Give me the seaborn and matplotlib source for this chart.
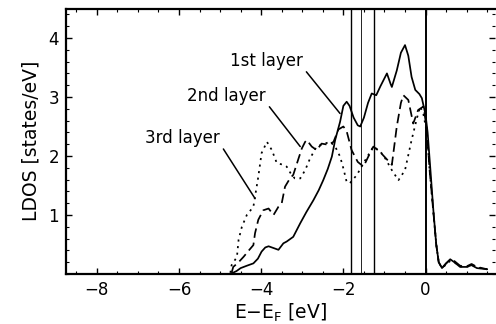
import numpy as np
import pandas as pd
import matplotlib
matplotlib.use("Agg")
import matplotlib.pyplot as plt
from matplotlib.ticker import MultipleLocator
import seaborn as sns

# ---- data ----
e1 = [-4.75, -4.6, -4.5, -4.35, -4.19, -4.08, -3.99, -3.9, -3.82, -3.7, -3.58, -3.46,
      -3.38, -3.22, -3.05, -2.9, -2.73, -2.6, -2.49, -2.38, -2.28, -2.2, -2.08, -2.0,
      -1.92, -1.85, -1.75, -1.65, -1.59, -1.5, -1.4, -1.31, -1.2, -1.1, -0.94, -0.85,
      -0.82, -0.7, -0.6, -0.5, -0.42, -0.34, -0.25, -0.15, -0.09, 0.0, 0.05, 0.12,
      0.19, 0.26, 0.32, 0.4, 0.5, 0.6, 0.7, 0.84, 1.0, 1.12, 1.25, 1.5]
d1 = [0.0, 0.05, 0.1, 0.14, 0.18, 0.26, 0.38, 0.45, 0.47, 0.44, 0.41, 0.52,
      0.55, 0.63, 0.86, 1.05, 1.25, 1.42, 1.59, 1.78, 1.99, 2.27, 2.58, 2.85,
      2.92, 2.85, 2.65, 2.52, 2.50, 2.65, 2.9, 3.06, 3.03, 3.18, 3.40, 3.22,
      3.17, 3.45, 3.75, 3.88, 3.7, 3.34, 3.12, 3.05, 2.98, 2.7, 2.4, 1.75,
      1.08, 0.5, 0.2, 0.1, 0.18, 0.25, 0.2, 0.12, 0.12, 0.15, 0.1, 0.08]

e2 = [-4.72, -4.68, -4.55, -4.43, -4.3, -4.19, -4.15, -4.07, -3.95, -3.82, -3.7, -3.58,
      -3.5, -3.42, -3.3, -3.22, -3.09, -3.01, -2.93, -2.89, -2.77, -2.65, -2.53, -2.36,
      -2.24, -2.12, -2.0, -1.92, -1.8, -1.65, -1.51, -1.4, -1.27, -1.11, -0.95, -0.82,
      -0.7, -0.6, -0.54, -0.42, -0.3, -0.18, -0.05, 0.03, 0.1, 0.19, 0.26, 0.32,
      0.4, 0.5, 0.6, 0.7, 0.84, 1.0, 1.12, 1.25, 1.5]
d2 = [0.02, 0.12, 0.2, 0.29, 0.4, 0.49, 0.69, 0.92, 1.08, 1.11, 1.0, 1.14,
      1.2, 1.48, 1.62, 1.68, 1.96, 2.13, 2.24, 2.27, 2.16, 2.10, 2.21, 2.19,
      2.24, 2.45, 2.5, 2.42, 2.1, 1.9, 1.82, 1.98, 2.16, 2.07, 1.95, 1.85,
      2.5, 2.9, 3.03, 2.95, 2.55, 2.78, 2.84, 2.45, 1.75, 1.05, 0.5, 0.2,
      0.1, 0.18, 0.24, 0.22, 0.14, 0.13, 0.17, 0.12, 0.08]

e3 = [-4.75, -4.72, -4.59, -4.55, -4.47, -4.35, -4.19, -4.15, -4.07, -3.99, -3.86, -3.74,
      -3.62, -3.46, -3.38, -3.26, -3.18, -3.05, -2.93, -2.81, -2.65, -2.5, -2.32, -2.2,
      -2.08, -2.0, -1.92, -1.84, -1.67, -1.51, -1.27, -1.15, -1.03, -0.82, -0.66, -0.5,
      -0.34, -0.21, -0.13, -0.05, 0.03, 0.1, 0.19, 0.26, 0.32, 0.4, 0.5, 0.6,
      0.7, 0.84, 1.0, 1.12, 1.25, 1.5]
d3 = [0.02, 0.15, 0.29, 0.58, 0.80, 1.0, 1.14, 1.31, 1.65, 2.05, 2.24, 2.10,
      1.88, 1.85, 1.82, 1.68, 1.62, 1.62, 1.76, 1.96, 2.16, 2.2, 2.24, 2.16,
      1.99, 1.79, 1.56, 1.54, 1.68, 1.88, 2.16, 2.1, 2.02, 1.76, 1.59, 1.76,
      2.27, 2.64, 2.84, 2.7, 2.4, 1.75, 1.05, 0.5, 0.2, 0.1, 0.16, 0.22,
      0.2, 0.13, 0.12, 0.15, 0.11, 0.08]

layers = ["1st layer", "2nd layer", "3rd layer"]
vlines = [-1.81, -1.58, -1.25, 0.0]
vline_widths = [1.0, 0.6, 1.0, 1.4]

x_ticks = [-8, -6, -4, -2, 0]
y_ticks = [1, 2, 3, 4]

# annotation geometry (label end point -> curve point)
label_text_xy = [(-2.98, 3.45), (-3.88, 2.86), (-5.0, 2.16)]
label_target = [(-2.08, 2.72), (-3.05, 2.16), (-4.15, 1.28)]

df = pd.concat([
    pd.DataFrame({"E": e1, "LDOS": d1, "layer": layers[0]}),
    pd.DataFrame({"E": e2, "LDOS": d2, "layer": layers[1]}),
    pd.DataFrame({"E": e3, "LDOS": d3, "layer": layers[2]}),
])

sns.set_style("ticks")
plt.rcParams["font.family"] = ["DejaVu Sans"]
plt.rcParams["text.color"] = "black"
plt.rcParams["axes.labelcolor"] = "black"
plt.rcParams["xtick.color"] = "black"
plt.rcParams["ytick.color"] = "black"

fig = plt.figure(figsize=(4.96, 3.24), dpi=100)
ax = fig.add_axes([66 / 496, 50 / 324, (495 - 66) / 496, (274 - 8.5) / 324])

styles = {layers[0]: "-", layers[1]: (0, (5.5, 2.8)), layers[2]: (0, (1.2, 2.6))}
for lay in layers:
    sub = df[df["layer"] == lay]
    sns.lineplot(data=sub, x="E", y="LDOS", ax=ax, color="black",
                 linewidth=1.25, linestyle=styles[lay], legend=False,
                 estimator=None, sort=False)

for v, w in zip(vlines, vline_widths):
    ax.axvline(v, color="black", linewidth=w, zorder=1)

for txt, xt, xy in zip(layers, label_text_xy, label_target):
    ax.annotate(txt, xy=xy, xytext=xt, ha="right", va="bottom", fontsize=12,
                color="black",
                arrowprops=dict(arrowstyle="-", color="black", lw=1.1,
                                shrinkA=0, shrinkB=0, relpos=(1.0, 0.15)))

ax.set_xlim(-8.75, 1.69)
ax.set_ylim(0, 4.5)
ax.set_xticks(x_ticks)
ax.set_yticks(y_ticks)
ax.set_xticklabels([f"{t}".replace("-", "\u2212") for t in x_ticks], fontsize=12)
ax.set_yticklabels([str(t) for t in y_ticks], fontsize=12)
ax.xaxis.set_minor_locator(MultipleLocator(0.5))
ax.yaxis.set_minor_locator(MultipleLocator(0.2))
ax.tick_params(which="both", direction="in", top=True, right=True, color="black",
               labelcolor="black")
ax.tick_params(which="major", length=4, width=1.0, pad=5)
ax.tick_params(which="minor", length=2, width=0.8)

for side in ["left", "bottom", "top"]:
    ax.spines[side].set_linewidth(1.6)
    ax.spines[side].set_color("black")
ax.spines["right"].set_visible(False)

ax.set_xlabel("E\u2212E$_\\mathregular{F}$ [eV]", fontsize=13.5, labelpad=2)
ax.set_ylabel("LDOS [states/eV]", fontsize=13.5, labelpad=6)

fig.savefig("out.png", dpi=100)
